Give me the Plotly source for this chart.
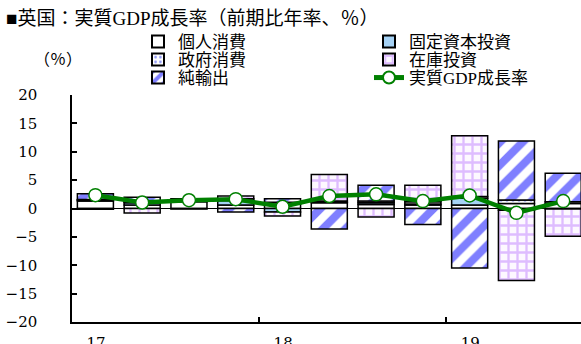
import plotly.graph_objects as go

quarters = ["17Q1", "17Q2", "17Q3", "17Q4", "18Q1", "18Q2", "18Q3", "18Q4", "19Q1", "19Q2", "19Q3"]
consumption = [1.3, 0.6, 1.2, 0.6, 0.8, 1.0, 0.7, 0.6, 0.6, 0.9, 0.9]
fixed_inv = [0.2, 0.4, 0.2, 0.8, -0.6, 0.1, 0.3, 0.2, 1.2, -0.3, -0.1]
gov = [0.1, 0.2, 0.2, 0.3, 0.3, 0.2, 0.3, 0.4, 0.3, 0.6, 0.3]
inventory = [-0.15, -0.8, 0.1, 0.5, -0.7, 4.7, -1.5, 2.9, 10.7, -12.4, -4.8]
net_exports = [1.0, 0.8, -0.1, -0.6, 0.6, -3.6, 2.8, -2.8, -10.5, 10.4, 5.0]
gdp = [2.35, 1.05, 1.46, 1.64, 0.3, 2.2, 2.5, 1.3, 2.3, -0.77, 1.3]
year_ticks = ["17", "18", "19"]
year_tick_pos = [-0.5, 3.5, 7.5]

x = list(range(len(quarters)))
FONT = "Liberation Serif, Noto Sans CJK JP"
NUMFONT = "DejaVu Serif"
outline = dict(color="black", width=1.5)

L, T, PW, PH = 72, 95, 509, 227


def px_x(p):
    return (p - L) / PW


def px_y(p):
    return 1 + (T - p) / PH


fig = go.Figure()
fig.add_bar(x=x, y=consumption, name="個人消費", legend="legend",
            marker=dict(color="white", line=outline))
fig.add_bar(x=x, y=fixed_inv, name="固定資本投資", legend="legend2",
            marker=dict(color="#a6d2f5", line=outline))
fig.add_bar(x=x, y=gov, name="政府消費", legend="legend3",
            marker=dict(color="white", line=outline,
                        pattern=dict(shape=".", fgcolor="#2233ee", bgcolor="white",
                                     size=6, solidity=0.25)))
fig.add_bar(x=x, y=inventory, name="在庫投資", legend="legend4",
            marker=dict(color="white", line=outline,
                        pattern=dict(shape="+", fgcolor="#c080ff", bgcolor="#fdf8ff",
                                     size=9, solidity=0.45)))
fig.add_bar(x=x, y=net_exports, name="純輸出", legend="legend5",
            marker=dict(color="white", line=outline,
                        pattern=dict(shape="/", fgcolor="#0000ff", bgcolor="white",
                                     size=16, solidity=0.5)))
fig.add_scatter(x=x, y=gdp, name="実質GDP成長率", mode="lines+markers", legend="legend6",
                line=dict(color="#008000", width=4.5),
                marker=dict(symbol="circle", size=13, color="white",
                            line=dict(color="#008000", width=1.5)))

col_x = [138, 369]
row_y = [42, 60, 78]
legend_slots = [(0, 0), (1, 0), (0, 1), (1, 1), (0, 2), (1, 2)]
legend_layout = {}
for i, (c, r) in enumerate(legend_slots):
    key = "legend" if i == 0 else f"legend{i+1}"
    legend_layout[key] = dict(
        x=px_x(col_x[c]), xanchor="left", y=px_y(row_y[r]), yanchor="middle",
        font=dict(family=FONT, size=17), bgcolor="rgba(0,0,0,0)",
        itemsizing="constant", orientation="v")

fig.update_layout(
    width=581, height=344,
    margin=dict(l=L, r=0, t=T, b=22, autoexpand=False),
    paper_bgcolor="white", plot_bgcolor="white",
    barmode="relative", bargap=0.23,
    font=dict(family=FONT, size=15, color="black"),
    showlegend=True,
    xaxis=dict(range=[-0.5, 10.38], tickmode="array", tickvals=year_tick_pos,
               ticktext=year_ticks, ticks="inside", ticklen=5, tickwidth=1.5,
               tickcolor="black", ticklabelshift=24, ticklabelstandoff=6,
               showline=True, linecolor="black", linewidth=1.5,
               showgrid=False, zeroline=False, automargin=False,
               tickfont=dict(family=NUMFONT, size=15)),
    yaxis=dict(range=[-20, 20], dtick=5, ticks="inside", ticklen=5, tickwidth=1.5,
               tickcolor="black", showline=True, linecolor="black", linewidth=1.5,
               showgrid=False, zeroline=True, zerolinecolor="black", zerolinewidth=1,
               automargin=False, ticklabelstandoff=30,
               tickfont=dict(family=NUMFONT, size=15)),
    annotations=[
        dict(text="■英国：実質GDP成長率（前期比年率、％）", xref="paper", yref="paper",
             x=px_x(4), y=px_y(18), xanchor="left", yanchor="middle",
             showarrow=False, font=dict(family=FONT, size=19)),
        dict(text="（％）", xref="paper", yref="paper",
             x=px_x(84), y=px_y(60), xanchor="right", yanchor="middle",
             showarrow=False, font=dict(family=FONT, size=16)),
    ],
    **legend_layout,
)

fig.write_html("out.html",
               config={"displayModeBar": False},
               post_script="document.body.style.margin='0';document.body.style.overflow='hidden';")
